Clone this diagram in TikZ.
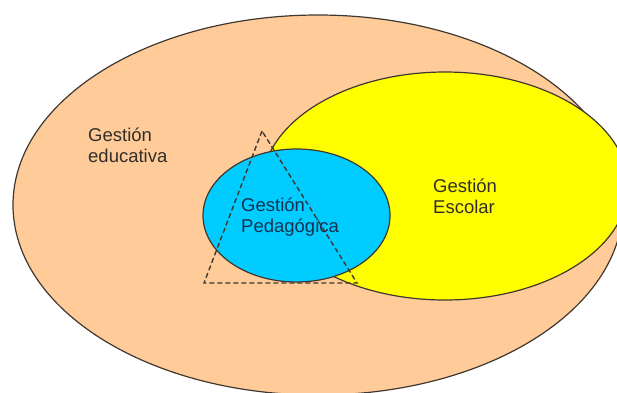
\documentclass[tikz,border=0pt]{standalone}
\usepackage{fontspec}
\setmainfont{Liberation Sans}
\usetikzlibrary{shapes.geometric}
\definecolor{GEpeach}{RGB}{255,204,153}
\definecolor{GEyellow}{RGB}{255,255,0}
\definecolor{GEblue}{RGB}{0,204,255}
\definecolor{GEline}{RGB}{64,56,48}
\definecolor{GEtext}{RGB}{51,45,40}
\definecolor{GEnavy}{RGB}{20,50,80}
\tikzset{
    areabox/.style={
        ellipse, draw=GEline, line width=1.2pt, inner sep=0pt
    },
    arealabel/.style={
        anchor=base west, align=left, inner sep=0pt,
        font=\fontsize{18.5}{21}\selectfont, text=GEtext
    },
}

\begin{document}
\begin{tikzpicture}[x=1pt, y=-1pt]
    \clip (0,0) rectangle (617,392);
    % Areas
    \node[areabox, fill=GEpeach, minimum width=610pt, minimum height=380pt] (edu) at (318,205) {};
    \node[areabox, fill=GEyellow, minimum width=366pt, minimum height=228pt] (esc) at (445,186) {};
    \node[areabox, fill=GEblue, minimum width=187pt, minimum height=133pt] (ped) at (296.5,215.5) {};

    % Triangle
    \coordinate (apex) at (262,131);
    \coordinate (baseL) at (204,283);
    \coordinate (baseR) at (357,283);
    \draw[GEline, line width=1.4pt, dash pattern=on 5pt off 3pt] (apex) -- (baseL) -- (baseR) -- cycle;

    % Labels (base = last line)
    \node[arealabel] (eduText) at (88,162) {Gestión\\educativa};
    \node[arealabel] (escText) at (433,213) {Gestión\\Escolar};
    \node[arealabel, text=GEnavy] (pedText) at (241,232) {Gestión\\Pedagógica};
\end{tikzpicture}
\end{document}
